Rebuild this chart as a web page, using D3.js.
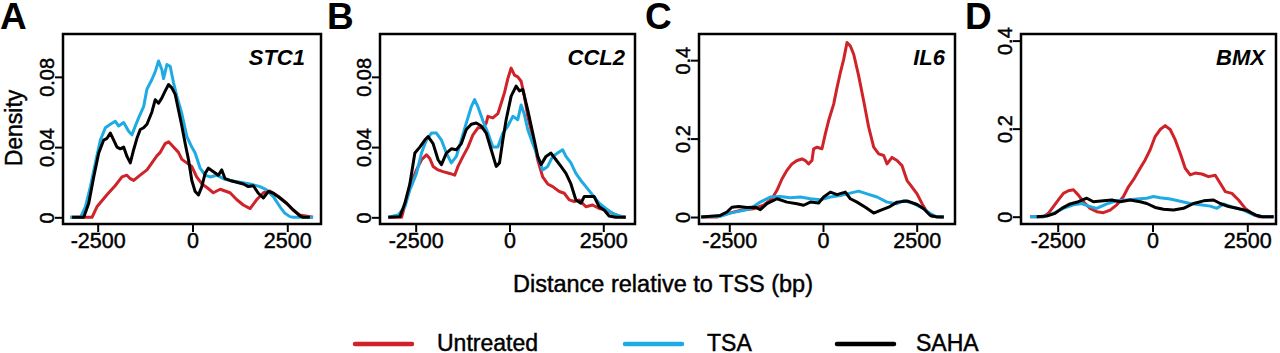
<!DOCTYPE html>
<html>
<head>
<meta charset="utf-8">
<script src="https://cdn.jsdelivr.net/npm/d3@7"></script>
<style>
  html, body { margin: 0; padding: 0; background: #fff; }
  svg { display: block; font-family: "Liberation Sans", Arial, Helvetica, sans-serif; }
</style>
</head>
<body>
<svg id="chart" width="1280" height="353"></svg>
<script>
// ---------------- DATA ----------------
const panelLetters = ["A", "B", "C", "D"];
const geneNames = ["STC1", "CCL2", "IL6", "BMX"];
const seriesNames = ["Untreated", "TSA", "SAHA"];
const xTickValues = [-2500, 0, 2500];
const xTickLabels = ["-2500", "0", "2500"];
const yTicksAB = [0, 0.04, 0.08];
const yTickLabelsAB = ["0", "0.04", "0.08"];
const yTicksCD = [0, 0.2, 0.4];
const yTickLabelsCD = ["0", "0.2", "0.4"];

// Panel A: STC1  [distance (bp), density]
const stc1Untreated = [[-3220,0],[-2650,0],[-2520,0.006],[-2250,0.013],[-2040,0.018],[-1860,0.023],[-1730,0.024],[-1640,0.022],[-1550,0.021],[-1380,0.024],[-1200,0.027],[-1070,0.031],[-940,0.035],[-850,0.037],[-720,0.042],[-630,0.043],[-500,0.040],[-370,0.037],[-280,0.033],[-150,0.031],[-20,0.029],[110,0.023],[250,0.019],[380,0.017],[550,0.014],[730,0.016],[990,0.014],[1170,0.010],[1340,0.007],[1520,0.005],[1690,0.010],[1870,0.014],[2040,0.015],[2260,0.012],[2480,0.008],[2660,0.004],[2830,0.0013],[3180,0]];
const stc1TSA = [[-3220,0],[-2955,0],[-2824,0.006],[-2692,0.0175],[-2561,0.031],[-2429,0.044],[-2298,0.051],[-2166,0.053],[-2035,0.0547],[-1947,0.052],[-1815,0.054],[-1684,0.049],[-1596,0.047],[-1508,0.052],[-1421,0.0566],[-1289,0.063],[-1201,0.073],[-1070,0.0785],[-982,0.083],[-895,0.089],[-807,0.084],[-763,0.079],[-675,0.087],[-588,0.086],[-500,0.0766],[-412,0.069],[-281,0.059],[-149,0.046],[-18,0.040],[70,0.0366],[202,0.028],[333,0.024],[465,0.023],[640,0.024],[816,0.022],[991,0.021],[1254,0.020],[1517,0.019],[1780,0.0175],[1956,0.0156],[2131,0.0118],[2307,0.006],[2438,0.0023],[2570,0.0004],[2657,0],[3180,0]];
const stc1SAHA = [[-3175,0],[-2868,0],[-2736,0.008],[-2605,0.023],[-2473,0.0366],[-2342,0.044],[-2254,0.045],[-2166,0.048],[-2078,0.044],[-1991,0.040],[-1903,0.039],[-1815,0.040],[-1728,0.0347],[-1640,0.031],[-1552,0.0385],[-1465,0.045],[-1377,0.050],[-1289,0.051],[-1201,0.053],[-1070,0.060],[-982,0.067],[-895,0.065],[-807,0.068],[-719,0.072],[-631,0.0756],[-544,0.0737],[-456,0.070],[-368,0.061],[-281,0.052],[-193,0.042],[-105,0.0328],[-18,0.021],[70,0.0147],[158,0.0128],[246,0.0175],[333,0.025],[421,0.028],[553,0.026],[684,0.024],[772,0.027],[859,0.022],[991,0.021],[1166,0.020],[1342,0.019],[1473,0.0175],[1605,0.018],[1736,0.0137],[1868,0.011],[2000,0.0147],[2131,0.0137],[2307,0.011],[2482,0.008],[2657,0.0042],[2833,0.0008],[2920,0],[3096,0]];

// Panel B: CCL2
const ccl2Untreated = [[-3230,0],[-2876,0],[-2655,0.0175],[-2478,0.027],[-2345,0.0328],[-2213,0.0356],[-2124,0.0335],[-2036,0.029],[-1903,0.027],[-1770,0.026],[-1593,0.025],[-1460,0.024],[-1372,0.029],[-1239,0.0347],[-1106,0.040],[-974,0.047],[-841,0.051],[-708,0.051],[-620,0.0537],[-575,0.0575],[-443,0.0566],[-310,0.059],[-221,0.065],[-133,0.071],[-44,0.079],[44,0.085],[133,0.081],[221,0.080],[310,0.0775],[398,0.069],[487,0.0575],[620,0.046],[752,0.0328],[885,0.023],[1018,0.019],[1151,0.0175],[1328,0.0147],[1460,0.0137],[1593,0.0099],[1726,0.009],[1859,0.0099],[2036,0.006],[2213,0.007],[2390,0.005],[2567,0.0042],[2744,0.0023],[2921,0.0008],[3098,0]];
const ccl2TSA = [[-3230,0],[-2965,0.0013],[-2788,0.006],[-2655,0.0156],[-2478,0.025],[-2345,0.0366],[-2213,0.044],[-2080,0.048],[-1947,0.048],[-1814,0.044],[-1682,0.0366],[-1549,0.031],[-1416,0.0347],[-1283,0.044],[-1151,0.0537],[-1018,0.063],[-929,0.067],[-841,0.063],[-708,0.055],[-575,0.048],[-443,0.040],[-310,0.040],[-177,0.048],[-44,0.052],[89,0.0575],[221,0.0556],[310,0.064],[398,0.0585],[487,0.050],[620,0.042],[752,0.0347],[885,0.027],[1018,0.029],[1151,0.0347],[1283,0.0366],[1416,0.0385],[1505,0.0347],[1637,0.031],[1770,0.025],[1903,0.021],[2036,0.0175],[2213,0.0128],[2390,0.008],[2567,0.005],[2744,0.0023],[2921,0.0008],[3098,0]];
const ccl2SAHA = [[-3230,0],[-2920,0.0004],[-2788,0.008],[-2655,0.019],[-2522,0.0366],[-2390,0.040],[-2257,0.044],[-2168,0.046],[-2036,0.042],[-1903,0.0328],[-1814,0.030],[-1682,0.0366],[-1549,0.039],[-1416,0.0385],[-1283,0.042],[-1151,0.050],[-1018,0.053],[-885,0.0537],[-752,0.052],[-620,0.048],[-487,0.0385],[-354,0.029],[-266,0.031],[-177,0.044],[-89,0.0556],[44,0.069],[177,0.0747],[266,0.072],[354,0.0728],[487,0.061],[620,0.048],[752,0.0347],[841,0.030],[974,0.0347],[1106,0.0366],[1239,0.0328],[1372,0.029],[1505,0.025],[1637,0.019],[1770,0.0099],[1903,0.008],[1991,0.0118],[2257,0.0118],[2390,0.006],[2522,0.0042],[2655,0.0008],[2832,0],[3098,0]];

// Panel C: IL6
const il6Untreated = [[-3249,0],[-2830,0],[-2563,0.0085],[-2207,0.017],[-1851,0.021],[-1584,0.030],[-1362,0.0466],[-1228,0.068],[-1095,0.097],[-961,0.119],[-828,0.1355],[-694,0.144],[-561,0.148],[-472,0.144],[-383,0.1355],[-294,0.144],[-249,0.174],[-160,0.178],[-27,0.174],[62,0.212],[151,0.246],[285,0.288],[374,0.330],[463,0.368],[552,0.402],[641,0.445],[730,0.436],[819,0.415],[952,0.36],[1086,0.296],[1219,0.229],[1353,0.178],[1486,0.161],[1620,0.157],[1709,0.1355],[1842,0.152],[1976,0.144],[2109,0.131],[2243,0.093],[2376,0.076],[2510,0.059],[2643,0.034],[2777,0.0127],[2910,0.0017],[3222,0]];
const il6TSA = [[-3249,0],[-2741,0.0017],[-2474,0.010],[-2207,0.015],[-1940,0.021],[-1673,0.038],[-1406,0.051],[-1139,0.0525],[-872,0.049],[-605,0.051],[-338,0.0466],[-71,0.044],[196,0.051],[463,0.055],[730,0.061],[952,0.066],[1175,0.059],[1442,0.051],[1709,0.038],[1976,0.034],[2154,0.042],[2421,0.034],[2688,0.021],[2866,0.0085],[2999,0.0017],[3222,0]];
const il6SAHA = [[-3249,0],[-2741,0.004],[-2563,0.0127],[-2430,0.025],[-2252,0.027],[-2029,0.024],[-1807,0.025],[-1673,0.0186],[-1495,0.034],[-1228,0.0466],[-961,0.038],[-694,0.034],[-516,0.030],[-338,0.038],[-116,0.036],[18,0.051],[196,0.0635],[374,0.057],[596,0.0635],[730,0.0466],[908,0.038],[1130,0.025],[1353,0.010],[1531,0.017],[1753,0.025],[1976,0.038],[2243,0.041],[2510,0.032],[2688,0.021],[2866,0.004],[3044,0],[3222,0]];

// Panel D: BMX
const bmxUntreated = [[-3230,0],[-2878,0],[-2746,0.0076],[-2614,0.023],[-2482,0.038],[-2350,0.053],[-2218,0.059],[-2086,0.061],[-1954,0.049],[-1822,0.034],[-1646,0.019],[-1470,0.0114],[-1294,0.009],[-1118,0.015],[-942,0.027],[-766,0.046],[-634,0.068],[-502,0.084],[-326,0.110],[-194,0.129],[-62,0.152],[70,0.182],[202,0.198],[334,0.207],[466,0.198],[598,0.175],[730,0.144],[862,0.110],[994,0.095],[1126,0.099],[1302,0.097],[1478,0.091],[1654,0.094],[1786,0.076],[1918,0.057],[2094,0.053],[2270,0.038],[2446,0.019],[2622,0.0076],[2798,0],[3194,0]];
const bmxTSA = [[-3230,0],[-2878,0],[-2614,0.0076],[-2350,0.019],[-2086,0.027],[-1866,0.030],[-1690,0.024],[-1470,0.019],[-1206,0.029],[-942,0.036],[-678,0.038],[-414,0.040],[-150,0.042],[26,0.046],[202,0.043],[466,0.040],[730,0.035],[994,0.030],[1258,0.027],[1522,0.024],[1698,0.019],[1874,0.029],[2138,0.021],[2402,0.015],[2666,0.004],[2930,0],[3194,0]];
const bmxSAHA = [[-3054,0],[-2790,0.0015],[-2570,0.0076],[-2394,0.019],[-2174,0.029],[-1954,0.034],[-1734,0.042],[-1558,0.034],[-1294,0.036],[-1074,0.038],[-854,0.034],[-590,0.038],[-326,0.034],[-150,0.030],[70,0.021],[290,0.017],[554,0.015],[818,0.019],[1082,0.030],[1346,0.036],[1610,0.038],[1786,0.030],[2006,0.023],[2226,0.019],[2490,0.0137],[2710,0.004],[2886,0],[3194,0]];

const panelSeries = [
  [stc1Untreated, stc1TSA, stc1SAHA],
  [ccl2Untreated, ccl2TSA, ccl2SAHA],
  [il6Untreated, il6TSA, il6SAHA],
  [bmxUntreated, bmxTSA, bmxSAHA]
];
const panelYTicks = [yTicksAB, yTicksAB, yTicksCD, yTicksCD];
const panelYTickLabels = [yTickLabelsAB, yTickLabelsAB, yTickLabelsCD, yTickLabelsCD];

// ---------------- LAYOUT / STYLE ----------------
const colors = ["#cf2329", "#1eaae2", "#000000"];
const plotTop = 34, plotBottom = 224;
const panelBoxes = [
  {L: 63,   R: 321,  xd: [-3415, 3389], yd: [-0.0038, 0.1044], geneX: 305},
  {L: 380,  R: 635,  xd: [-3451, 3345], yd: [-0.0038, 0.1044], geneX: 625},
  {L: 699,  R: 955,  xd: [-3308, 3522], yd: [-0.0178, 0.4667], geneX: 945},
  {L: 1021, R: 1276, xd: [-3468, 3257], yd: [-0.0166, 0.415],  geneX: 1265}
];
const letterX = [0, 327, 645, 965];
const textHalo = 0.45; // slight stroke to mimic the heavier reference type

const svg = d3.select("#chart");

panelBoxes.forEach((p, i) => {
  const x = d3.scaleLinear().domain(p.xd).range([p.L, p.R]);
  const y = d3.scaleLinear().domain(p.yd).range([plotBottom, plotTop]);
  const g = svg.append("g");

  const line = d3.line().x(d => x(d[0])).y(d => y(d[1]));
  panelSeries[i].forEach((s, k) => {
    g.append("path").datum(s)
      .attr("d", line)
      .attr("fill", "none")
      .attr("stroke", colors[k])
      .attr("stroke-width", 3)
      .attr("stroke-linejoin", "round");
  });

  g.append("rect")
    .attr("x", p.L).attr("y", plotTop)
    .attr("width", p.R - p.L).attr("height", plotBottom - plotTop)
    .attr("fill", "none").attr("stroke", "#000").attr("stroke-width", 2.5);

  const xa = g.append("g").attr("transform", `translate(0,${plotBottom})`)
    .call(d3.axisBottom(x).tickValues(xTickValues)
      .tickFormat((d, j) => xTickLabels[j]).tickSize(8).tickSizeOuter(0).tickPadding(1));
  xa.select(".domain").remove();
  xa.selectAll(".tick line").attr("stroke", "#000").attr("stroke-width", 2);
  xa.selectAll(".tick text").attr("font-size", 21.5).attr("fill", "#000")
    .attr("stroke", "#000").attr("stroke-width", textHalo)
    .attr("font-family", "Liberation Sans, Arial, sans-serif");

  const ya = g.append("g").attr("transform", `translate(${p.L},0)`)
    .call(d3.axisLeft(y).tickValues(panelYTicks[i])
      .tickFormat((d, j) => panelYTickLabels[i][j]).tickSize(8).tickSizeOuter(0));
  ya.select(".domain").remove();
  ya.selectAll(".tick line").attr("stroke", "#000").attr("stroke-width", 2);
  ya.selectAll(".tick text")
    .attr("font-size", 20).attr("fill", "#000")
    .attr("stroke", "#000").attr("stroke-width", textHalo)
    .attr("font-family", "Liberation Sans, Arial, sans-serif")
    .attr("transform", "rotate(-90)")
    .attr("x", 0).attr("y", -9.5).attr("dy", 0)
    .attr("text-anchor", "middle");

  g.append("text")
    .attr("x", p.geneX).attr("y", 65)
    .attr("text-anchor", "end")
    .attr("font-size", 22).attr("font-weight", "bold").attr("font-style", "italic")
    .text(geneNames[i]);

  svg.append("text")
    .attr("x", letterX[i]).attr("y", 29)
    .attr("font-size", 37).attr("font-weight", "bold")
    .text(panelLetters[i]);
});

svg.append("text")
  .attr("transform", "translate(22,128) rotate(-90)")
  .attr("text-anchor", "middle")
  .attr("font-size", 23)
  .attr("stroke", "#000").attr("stroke-width", textHalo)
  .text("Density");

svg.append("text")
  .attr("x", 663).attr("y", 292)
  .attr("text-anchor", "middle")
  .attr("font-size", 23.5)
  .attr("stroke", "#000").attr("stroke-width", textHalo)
  .text("Distance relative to TSS (bp)");

const legendLineX = [355, 625, 837];
const legendTextX = [437, 707, 916];
seriesNames.forEach((name, k) => {
  svg.append("line")
    .attr("x1", legendLineX[k]).attr("x2", legendLineX[k] + 57)
    .attr("y1", 344).attr("y2", 344)
    .attr("stroke", colors[k]).attr("stroke-width", 4.5)
    .attr("stroke-linecap", "round");
  svg.append("text")
    .attr("x", legendTextX[k]).attr("y", 351)
    .attr("font-size", 23)
    .attr("stroke", "#000").attr("stroke-width", textHalo)
    .text(name);
});
</script>
</body>
</html>
